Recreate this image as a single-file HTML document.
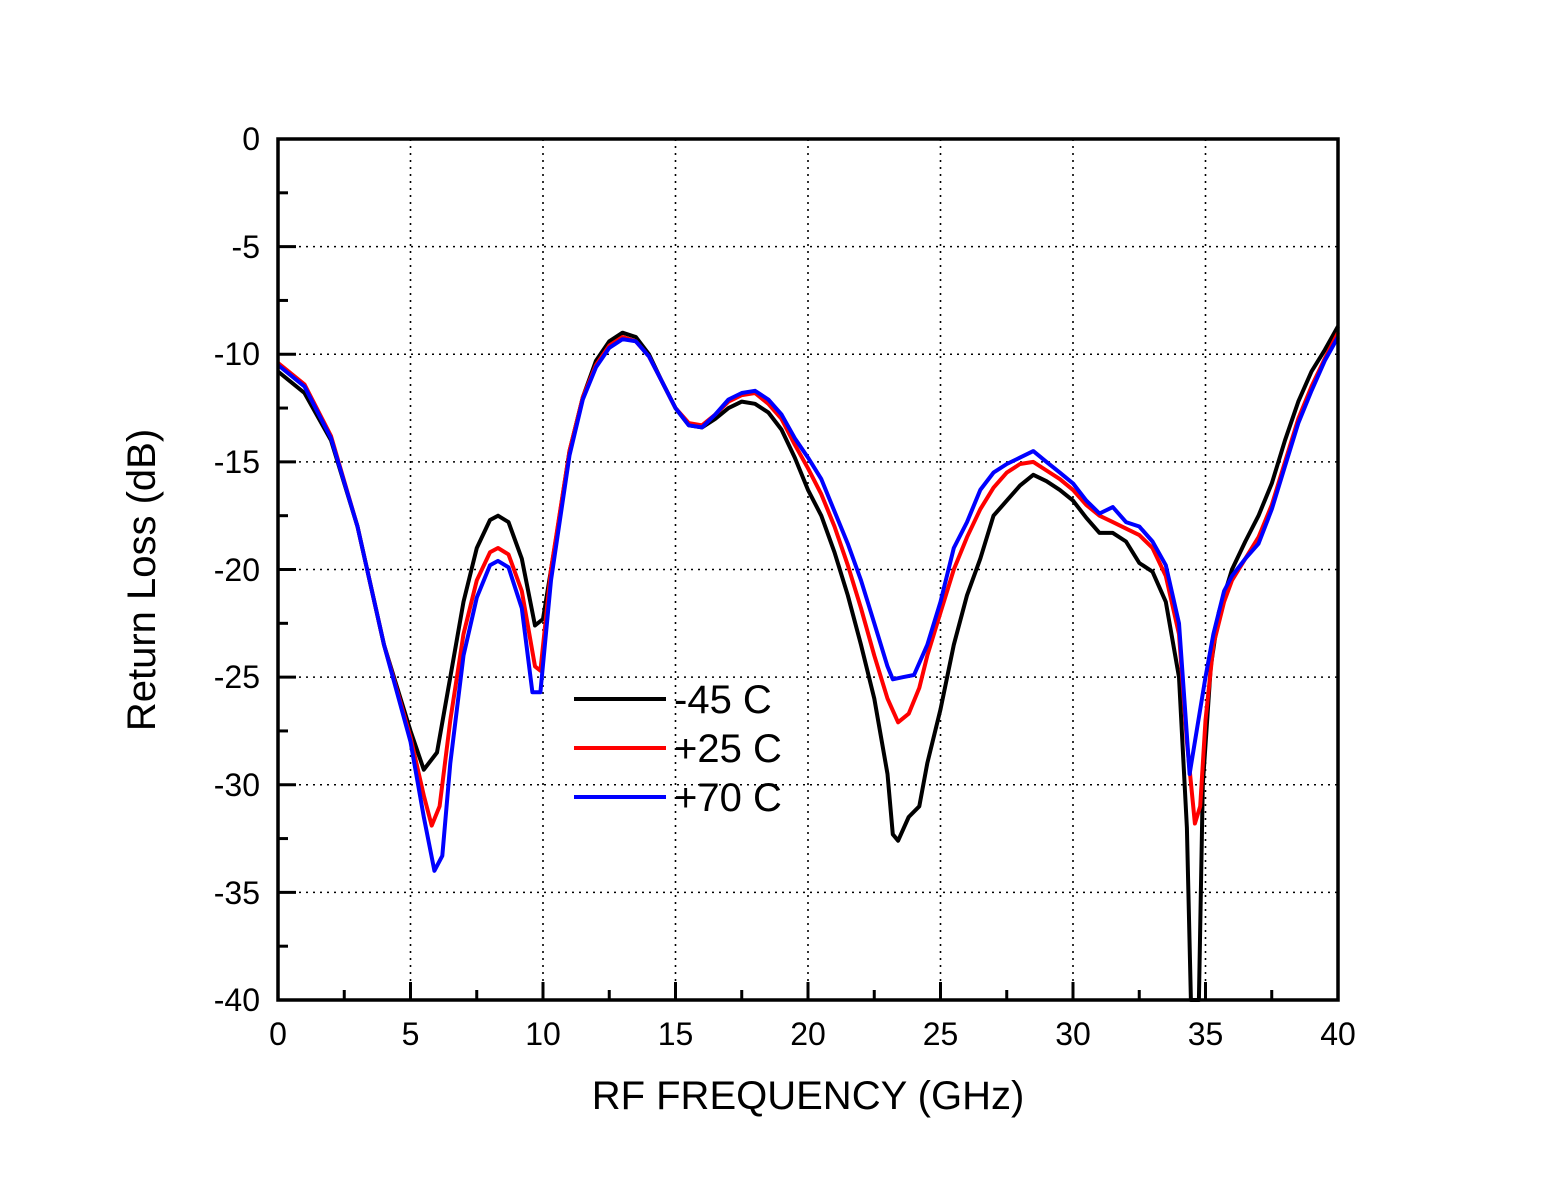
<!DOCTYPE html>
<html><head><meta charset="utf-8"><style>
html,body{margin:0;padding:0;background:#fff;}
svg{display:block;font-family:"Liberation Sans",Arial,sans-serif;}
</style></head><body>
<svg id="s" width="1553" height="1200" viewBox="0 0 1553 1200" xmlns="http://www.w3.org/2000/svg">
<rect width="1553" height="1200" fill="#fff"/>
<g id="grid" stroke="#000" stroke-width="1.6" stroke-dasharray="2,5"></g>
<g id="curves" fill="none" stroke-width="4" stroke-linejoin="round"></g>
<g id="ticks" stroke="#000" stroke-width="3"></g>
<rect x="278" y="139" width="1060" height="861" fill="none" stroke="#000" stroke-width="3.5"/>
<g font-size="32" text-anchor="end" fill="#000">
<text x="260" y="150">0</text><text x="260" y="258">-5</text><text x="260" y="365">-10</text>
<text x="260" y="473">-15</text><text x="260" y="581">-20</text><text x="260" y="688">-25</text>
<text x="260" y="796">-30</text><text x="260" y="904">-35</text><text x="260" y="1011">-40</text>
</g>
<g font-size="32" text-anchor="middle" fill="#000">
<text x="278" y="1045">0</text><text x="410.5" y="1045">5</text><text x="543" y="1045">10</text>
<text x="675.5" y="1045">15</text><text x="808" y="1045">20</text><text x="940.5" y="1045">25</text>
<text x="1073" y="1045">30</text><text x="1205.5" y="1045">35</text><text x="1338" y="1045">40</text>
</g>
<text x="808" y="1109" font-size="40" text-anchor="middle">RF FREQUENCY (GHz)</text>
<text transform="translate(155,580) rotate(-90)" font-size="40" text-anchor="middle">Return Loss (dB)</text>
<line x1="574" y1="699" x2="666" y2="699" stroke="#000" stroke-width="4"/>
<line x1="574" y1="748" x2="666" y2="748" stroke="#f00" stroke-width="4"/>
<line x1="574" y1="797" x2="666" y2="797" stroke="#00f" stroke-width="4"/>
<g font-size="40" fill="#000">
<text x="674" y="713">-45 C</text><text x="674" y="762">+25 C</text><text x="674" y="811">+70 C</text>
</g>
</svg>
<script>
var X=function(f){return 278+f*26.5},Y=function(d){return 139-d*21.525};
var ns="http://www.w3.org/2000/svg";
function el(p,t,a){var e=document.createElementNS(ns,t);for(var k in a)e.setAttribute(k,a[k]);p.appendChild(e);}
var g=document.getElementById('grid'),tk=document.getElementById('ticks');
for(var f=5;f<40;f+=5)el(g,'line',{x1:X(f),y1:139,x2:X(f),y2:1000});
for(var d=-5;d>-40;d-=5)el(g,'line',{x1:278,y1:Y(d),x2:1338,y2:Y(d)});
for(var f=2.5;f<40;f+=2.5){var L=(f%5==0)?18:10;el(tk,'line',{x1:X(f),y1:1000,x2:X(f),y2:1000-L});}
for(var d=-2.5;d>-40;d-=2.5){var L=(d%5==0)?18:10;el(tk,'line',{x1:278,y1:Y(d),x2:278+L,y2:Y(d)});}
var B=[0,-10.8,1,-11.8,2,-14,3,-18,4,-23.5,5,-27.5,5.5,-29.3,6,-28.5,6.5,-25,7,-21.5,7.5,-19,8,-17.7,8.3,-17.5,8.7,-17.8,9.2,-19.5,9.7,-22.6,10,-22.3,10.5,-18.5,11,-14.5,11.5,-12,12,-10.3,12.5,-9.4,13,-9,13.5,-9.2,14,-10,14.5,-11.3,15,-12.5,15.5,-13.3,16,-13.4,16.5,-13,17,-12.5,17.5,-12.2,18,-12.3,18.5,-12.7,19,-13.5,19.5,-14.8,20,-16.3,20.5,-17.5,21,-19.2,21.5,-21.2,22,-23.5,22.5,-26,23,-29.5,23.2,-32.3,23.4,-32.6,23.8,-31.5,24.2,-31,24.5,-29,25,-26.5,25.5,-23.5,26,-21.2,26.5,-19.5,27,-17.5,27.5,-16.8,28,-16.1,28.5,-15.6,29,-15.9,29.5,-16.3,30,-16.8,30.5,-17.6,31,-18.3,31.5,-18.3,32,-18.7,32.5,-19.7,33,-20.1,33.5,-21.5,34,-25,34.3,-32,34.45,-40.5,34.75,-40.5,34.9,-30,35.2,-24.5,35.5,-22,36,-20,36.5,-18.7,37,-17.5,37.5,-16,38,-14,38.5,-12.2,39,-10.8,39.5,-9.8,40,-8.7];
var R=[0,-10.4,1,-11.4,2,-13.8,3,-18,4,-23.5,5,-27.8,5.5,-30.5,5.8,-31.9,6.1,-31,6.5,-27,7,-23,7.5,-20.5,8,-19.2,8.3,-19,8.7,-19.3,9.2,-21,9.7,-24.5,9.9,-24.7,10.3,-20,11,-14.5,11.5,-12,12,-10.5,12.5,-9.6,13,-9.2,13.5,-9.4,14,-10.1,14.5,-11.3,15,-12.5,15.5,-13.2,16,-13.3,16.5,-12.8,17,-12.2,17.5,-11.9,18,-11.8,18.5,-12.3,19,-13,19.5,-14.2,20,-15.3,20.5,-16.5,21,-18,21.5,-19.8,22,-21.8,22.5,-24,23,-26,23.4,-27.1,23.8,-26.7,24.2,-25.5,24.5,-24,25,-22,25.5,-20,26,-18.5,26.5,-17.2,27,-16.2,27.5,-15.5,28,-15.1,28.5,-15,29,-15.4,29.5,-15.8,30,-16.3,30.5,-17,31,-17.5,31.5,-17.8,32,-18.1,32.5,-18.4,33,-19,33.5,-20.3,34,-23,34.3,-28,34.6,-31.8,34.8,-31,35,-27,35.3,-23.5,35.7,-21.5,36,-20.5,36.5,-19.5,37,-18.5,37.5,-17,38,-15,38.5,-13,39,-11.5,39.5,-10.2,40,-9];
var U=[0,-10.5,1,-11.5,2,-13.9,3,-18,4,-23.5,5,-28,5.5,-31.5,5.9,-34,6.2,-33.3,6.5,-29,7,-24,7.5,-21.3,8,-19.8,8.3,-19.6,8.7,-19.9,9.2,-21.8,9.6,-25.7,9.9,-25.7,10.3,-20.5,11,-14.7,11.5,-12.1,12,-10.6,12.5,-9.7,13,-9.3,13.5,-9.4,14,-10.1,14.5,-11.3,15,-12.5,15.5,-13.3,16,-13.4,16.5,-12.8,17,-12.1,17.5,-11.8,18,-11.7,18.5,-12.1,19,-12.8,19.5,-13.9,20,-14.8,20.5,-15.8,21,-17.3,21.5,-18.8,22,-20.5,22.5,-22.5,23,-24.5,23.2,-25.1,23.6,-25,24,-24.9,24.5,-23.5,25,-21.5,25.5,-19,26,-17.8,26.5,-16.3,27,-15.5,27.5,-15.1,28,-14.8,28.5,-14.5,29,-15,29.5,-15.5,30,-16,30.5,-16.8,31,-17.4,31.5,-17.1,32,-17.8,32.5,-18,33,-18.7,33.5,-19.8,34,-22.5,34.2,-26,34.4,-29.5,34.6,-28,35,-25,35.3,-23,35.7,-21,36,-20.3,36.5,-19.5,37,-18.8,37.5,-17.2,38,-15.2,38.5,-13.2,39,-11.7,39.5,-10.3,40,-9.2];
var c=document.getElementById('curves');
[[B,'#000'],[R,'#f00'],[U,'#00f']].forEach(function(s){var a=s[0],d='';for(var i=0;i<a.length;i+=2){var y=Math.min(Y(a[i+1]),1000);d+=(i?'L':'M')+X(a[i]).toFixed(1)+' '+y.toFixed(1);}
el(c,'path',{d:d,stroke:s[1]});});
</script>
</body></html>
